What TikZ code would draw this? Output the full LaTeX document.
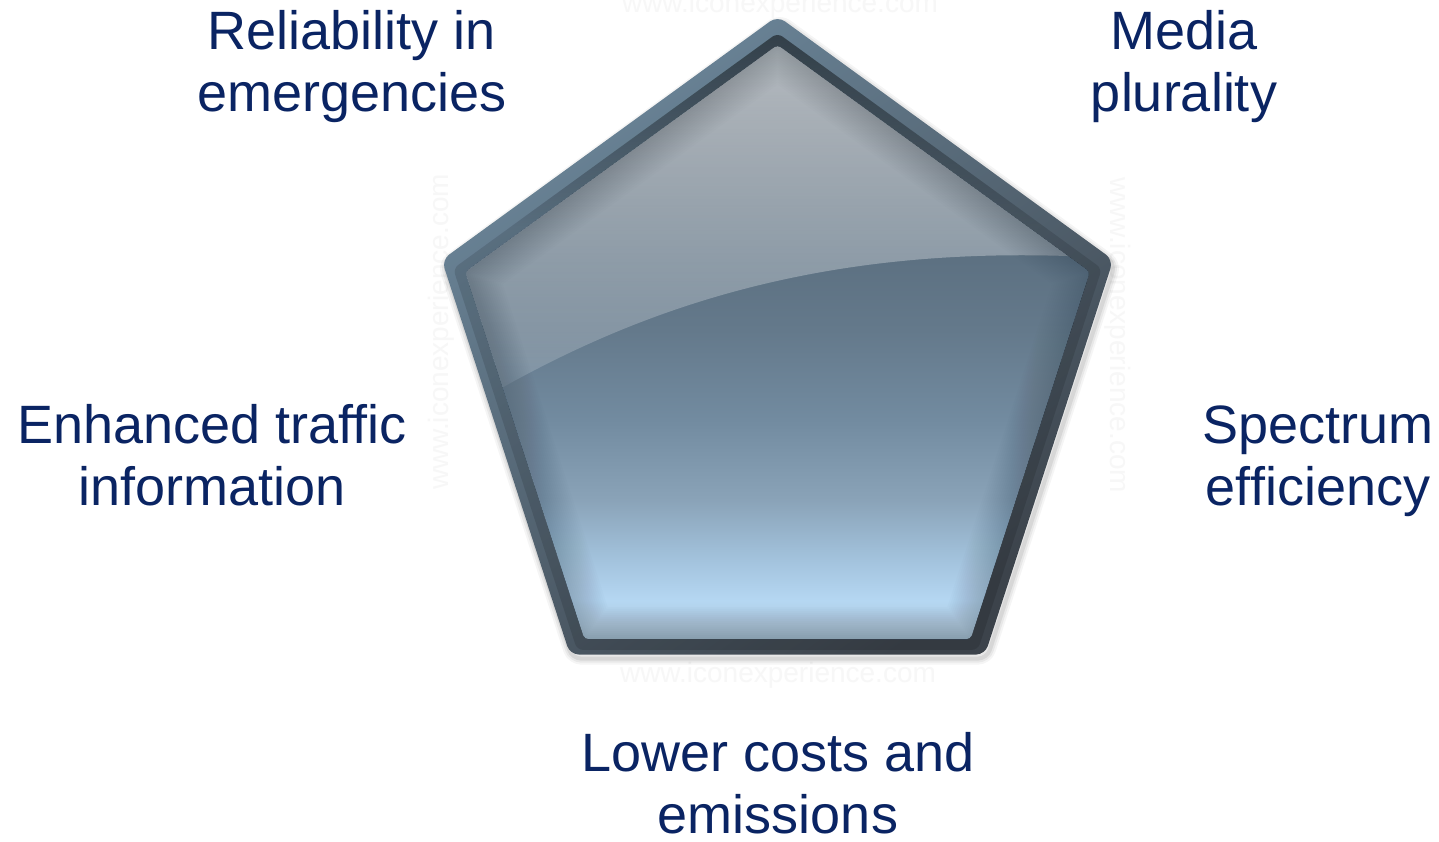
\documentclass[tikz,border=0pt]{standalone}
\usepackage{fontspec}
\setmainfont{Liberation Sans}
\usetikzlibrary{fadings}

% label and watermark colours
\definecolor{navy}{RGB}{10,36,99}
\definecolor{wmark}{RGB}{247,247,247}
% frame colours
\definecolor{frameA}{HTML}{6C879B}
\definecolor{frameM}{HTML}{566B7C}
\definecolor{frameB}{HTML}{3C434B}
% face colours, bottom to top
\definecolor{fc0}{HTML}{A8C0D2}
\definecolor{fc1}{HTML}{B0CBE0}
\definecolor{fc2}{HTML}{B5D7F2}
\definecolor{fc3}{HTML}{A3C3DD}
\definecolor{fc4}{HTML}{8AA3B8}
\definecolor{fc5}{HTML}{728BA0}
\definecolor{fc6}{HTML}{64798B}
\definecolor{fc7}{HTML}{5D7182}
\definecolor{fc8}{HTML}{535F6B}
\definecolor{innershade}{HTML}{2E3D4A}

\pgfdeclareverticalshading{faceshade}{100bp}{%
  color(0bp)=(fc0); color(25bp)=(fc0); color(26.18bp)=(fc1);
  color(28.28bp)=(fc2); color(31.65bp)=(fc3); color(36.70bp)=(fc4);
  color(43.43bp)=(fc5); color(51.01bp)=(fc6); color(56.90bp)=(fc7);
  color(75bp)=(fc8); color(100bp)=(fc8)}

\tikzfading[name=glossfade, top color=transparent!42, bottom color=transparent!90]
\tikzfading[name=lipfade, top color=transparent!55, bottom color=transparent!100]

% regular pentagon, centre (#1,#2), circumradius #3
\newcommand{\pent}[3]{({#1+#3*cos(90)},{#2+#3*sin(90)}) -- ({#1+#3*cos(162)},{#2+#3*sin(162)}) -- ({#1+#3*cos(234)},{#2+#3*sin(234)}) -- ({#1+#3*cos(306)},{#2+#3*sin(306)}) -- ({#1+#3*cos(18)},{#2+#3*sin(18)}) -- cycle}

\tikzset{
  lbl/.style={font=\fontsize{54}{62}\selectfont, text=navy, align=center,
    inner sep=0pt, anchor=base},
  wm/.style={font=\fontsize{28}{30}\selectfont, text=wmark, inner sep=0pt,
    anchor=base},
}

\begin{document}
\begin{tikzpicture}[x=1pt,y=1pt]
\useasboundingbox (0,0) rectangle (1439,-842);
\fill[white] (0,0) rectangle (1439,-842);

% faint watermarks behind the pentagon
\node[wm] (wmtop) at (780,-13) {www.iconexperience.com};
\node[wm] (wmbot) at (778,-682) {www.iconexperience.com};
\node[wm, rotate=90] (wmleft) at (448,-332) {www.iconexperience.com};
\node[wm, rotate=-90] (wmright) at (1110,-335) {www.iconexperience.com};

% soft drop shadow
\foreach \w/\o in {12/0.04,8/0.05,4/0.07}
  \draw[shift={(2,-4)}, black, draw opacity=\o, line width=\w, line join=round,
        rounded corners=9] \pent{777.5}{-369}{353};

% outer frame
\shade[top color=frameA, middle color=frameM, bottom color=frameB,
       shading angle=35, rounded corners=9] \pent{777.5}{-369}{353};

% darker inner lip of the frame
\fill[black, fill opacity=0.12, rounded corners=6] \pent{777.5}{-374}{341};
\begin{scope}
  \clip[rounded corners=6] \pent{777.5}{-374}{341};
  \fill[black, path fading=lipfade] (430,-20) rectangle (1130,-230);
\end{scope}

% glassy face
\shade[shading=faceshade, rounded corners=4] \pent{777.5}{-373.4}{328.4};
\begin{scope}
  \clip[rounded corners=4] \pent{777.5}{-373.4}{328.4};
  % gloss above the arc
  \fill[white, path fading=glossfade]
    (440,-425) .. controls (620,-310) and (820,-240) .. (1110,-258)
    -- (1110,-40) -- (440,-40) -- cycle;
  % soft inner shadow along the edges
  \foreach \w in {4,8,...,64}
    \draw[innershade, draw opacity=0.016, line width=\w, line join=round,
          rounded corners=4] \pent{777.5}{-373.4}{328.4};
\end{scope}

% labels (anchored on the baseline of their last line)
\node[lbl] (rel) at (352,-112) {Reliability in\\emergencies};
\node[lbl] (media) at (1184,-112) {Media\\plurality};
\node[lbl] (traffic) at (212,-505) {Enhanced traffic\\information};
\node[lbl] (spectrum) at (1318,-505) {Spectrum\\efficiency};
\node[lbl] (costs) at (778,-833) {Lower costs and\\emissions};
\end{tikzpicture}
\end{document}
